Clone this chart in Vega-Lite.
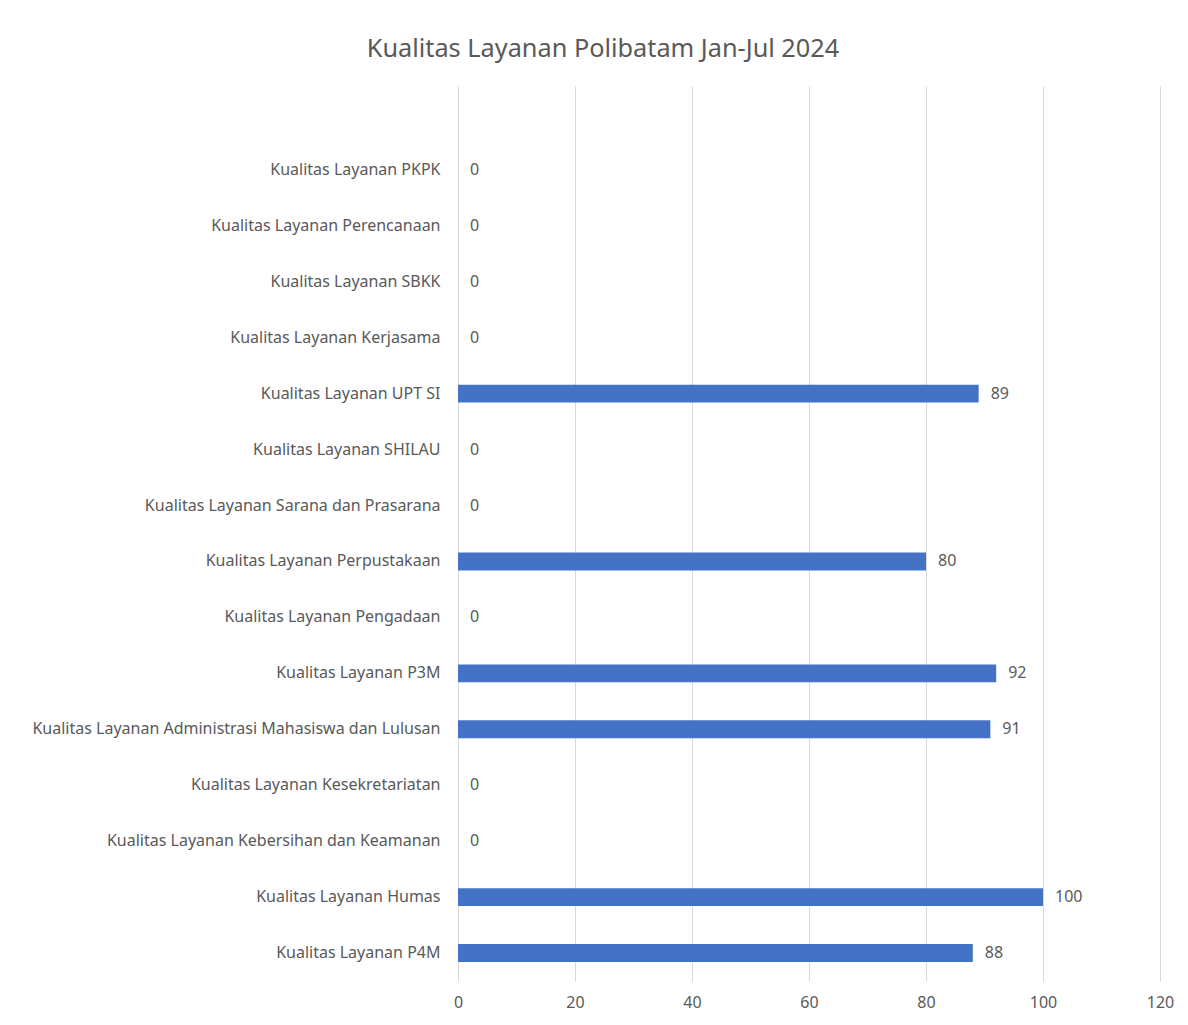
{
  "$schema": "https://vega.github.io/schema/vega-lite/v6.json",
  "autosize": {"type": "none"},
  "padding": {"left": 458, "top": 86, "right": 28, "bottom": 44},
  "width": 702,
  "height": 895,
  "background": "white",
  "title": {
    "text": "Kualitas Layanan Polibatam Jan-Jul 2024",
    "font": "Noto Sans",
    "fontSize": 25.3,
    "fontWeight": "normal",
    "color": "#595959",
    "anchor": "middle",
    "frame": "group",
    "dx": -206,
    "offset": 24
  },
  "data": {
    "values": [
      {"layanan": "Kualitas Layanan PKPK", "nilai": 0},
      {"layanan": "Kualitas Layanan Perencanaan", "nilai": 0},
      {"layanan": "Kualitas Layanan SBKK", "nilai": 0},
      {"layanan": "Kualitas Layanan Kerjasama", "nilai": 0},
      {"layanan": "Kualitas Layanan UPT SI", "nilai": 89},
      {"layanan": "Kualitas Layanan SHILAU", "nilai": 0},
      {"layanan": "Kualitas Layanan Sarana dan Prasarana", "nilai": 0},
      {"layanan": "Kualitas  Layanan  Perpustakaan", "nilai": 80},
      {"layanan": "Kualitas Layanan Pengadaan", "nilai": 0},
      {"layanan": "Kualitas Layanan P3M", "nilai": 92},
      {"layanan": "Kualitas  Layanan Administrasi Mahasiswa dan Lulusan", "nilai": 91},
      {"layanan": "Kualitas Layanan Kesekretariatan", "nilai": 0},
      {"layanan": "Kualitas Layanan Kebersihan dan Keamanan", "nilai": 0},
      {"layanan": "Kualitas Layanan Humas", "nilai": 100},
      {"layanan": "Kualitas Layanan P4M", "nilai": 88}
    ]
  },
  "encoding": {
    "y": {
      "field": "layanan",
      "type": "nominal",
      "scale": {
        "domain": [
          " ",
          "Kualitas Layanan PKPK",
          "Kualitas Layanan Perencanaan",
          "Kualitas Layanan SBKK",
          "Kualitas Layanan Kerjasama",
          "Kualitas Layanan UPT SI",
          "Kualitas Layanan SHILAU",
          "Kualitas Layanan Sarana dan Prasarana",
          "Kualitas  Layanan  Perpustakaan",
          "Kualitas Layanan Pengadaan",
          "Kualitas Layanan P3M",
          "Kualitas  Layanan Administrasi Mahasiswa dan Lulusan",
          "Kualitas Layanan Kesekretariatan",
          "Kualitas Layanan Kebersihan dan Keamanan",
          "Kualitas Layanan Humas",
          "Kualitas Layanan P4M"
        ],
        "paddingInner": 0.68,
        "paddingOuter": 0.34
      },
      "axis": {
        "title": null,
        "domain": false,
        "ticks": false,
        "grid": false,
        "labelPadding": 18,
        "labelFont": "Noto Sans",
        "labelFontSize": 16,
        "labelColor": "#595959",
        "labelLimit": 500
      }
    },
    "x": {
      "field": "nilai",
      "type": "quantitative",
      "scale": {"domain": [0, 120], "nice": false},
      "axis": {
        "title": null,
        "values": [0, 20, 40, 60, 80, 100, 120],
        "domain": false,
        "ticks": false,
        "grid": true,
        "gridColor": "#d9d9d9",
        "gridWidth": 1,
        "labelFlush": false,
        "labelPadding": 13,
        "labelFont": "Noto Sans",
        "labelFontSize": 16,
        "labelColor": "#595959"
      }
    }
  },
  "layer": [
    {"mark": {"type": "bar", "color": "#4472C4"}},
    {
      "mark": {
        "type": "text",
        "align": "left",
        "baseline": "middle",
        "dx": 12,
        "font": "Noto Sans",
        "fontSize": 16,
        "color": "#595959"
      },
      "encoding": {"text": {"field": "nilai", "type": "quantitative"}}
    }
  ],
  "config": {"view": {"stroke": null}}
}
